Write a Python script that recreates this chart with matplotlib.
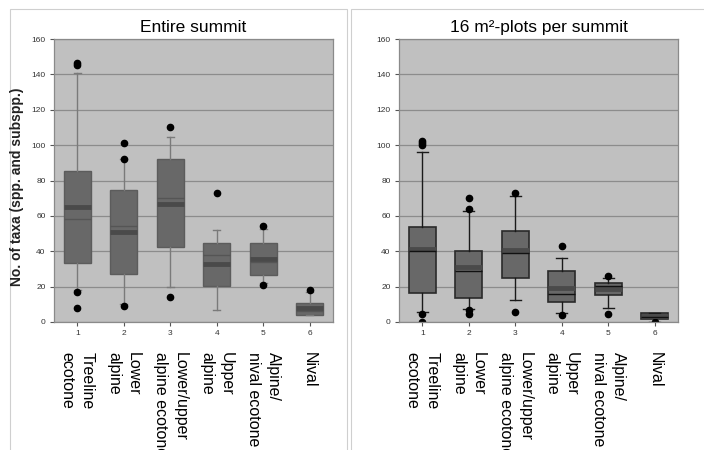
import matplotlib
matplotlib.use("Agg")
import matplotlib.pyplot as plt
from matplotlib.patches import Rectangle

plt.rcParams['font.family'] = ['Liberation Sans', 'DejaVu Sans']

categories = ["Treeline\necotone", "Lower\nalpine", "Lower/upper\nalpine ecotone",
              "Upper\nalpine", "Alpine/\nnival ecotone", "Nival"]
positions = [1, 2, 3, 4, 5, 6]

# entire summit: box statistics per altitudinal belt
med_summit = [64.8, 50.8, 66.8, 32.8, 35.4, 8.1]
mean_summit = [58.5, 54.0, 70.0, 37.8, 33.9, 6.0]
q1_summit = [33.3, 27.0, 42.2, 20.1, 26.4, 3.8]
q3_summit = [85.3, 74.5, 92.2, 44.8, 44.4, 10.7]
wlo_summit = [18.0, 10.2, 19.6, 6.8, 22.0, 3.8]
whi_summit = [140.6, 91.9, 104.5, 52.0, 52.5, 17.0]
fliers_summit = [[145.5, 146.3, 17, 8], [92, 101, 9], [110, 14], [73], [54, 21], [18]]

# 16 m2 plots per summit
med_plots = [41.0, 31.2, 40.7, 19.4, 18.5, 3.6]
mean_plots = [40.2, 28.8, 39.2, 15.8, 20.5, 3.0]
q1_plots = [16.4, 13.6, 24.8, 11.3, 15.2, 1.7]
q3_plots = [53.5, 40.1, 51.4, 29.0, 22.0, 4.9]
wlo_plots = [5.6, 7.3, 12.4, 4.9, 7.9, 0.0]
whi_plots = [96.2, 62.7, 71.0, 36.0, 24.8, 4.9]
fliers_plots = [[99.8, 101, 102.4, 4.7, 0], [64, 70, 6.6, 4.7], [73, 5.8], [43, 3.8], [25.8, 4.7], [0]]

yticks = [0, 20, 40, 60, 80, 100, 120, 140, 160]


def make_stats(med, mean, q1, q3, wlo, whi, fliers):
    stats = []
    for i in range(len(med)):
        stats.append(dict(med=med[i], mean=mean[i], q1=q1[i], q3=q3[i],
                          whislo=wlo[i], whishi=whi[i], fliers=fliers[i]))
    return stats


fig = plt.figure(figsize=(7.04, 4.5), dpi=100)
W, H = 704.0, 450.0

# light panel frames
for x0, x1 in [(10, 347), (351, 712)]:
    fig.patches.append(Rectangle((x0 / W, -0.05), (x1 - x0) / W, (H - 9) / H + 0.05,
                                 transform=fig.transFigure, fill=False,
                                 edgecolor='#cfcfcf', linewidth=0.8))


def draw_panel(left, stats, title, edge, whisk, meancol, capw, edge_lw):
    ax = fig.add_axes([left / W, (H - 322) / H, 279 / W, 283 / H])
    ax.set_facecolor('#c0c0c0')
    ax.set_axisbelow(True)
    ax.grid(axis='y', color='#8c8c8c', linewidth=0.9)
    ax.bxp(stats, positions=positions, widths=0.58, patch_artist=True,
           showmeans=True, meanline=True, capwidths=capw,
           boxprops=dict(facecolor='#686868', edgecolor=edge, linewidth=edge_lw),
           medianprops=dict(color='#4a4a4a', linewidth=3.5),
           meanprops=dict(color=meancol, linestyle='-', linewidth=1.0),
           whiskerprops=dict(color=whisk, linewidth=1.0),
           capprops=dict(color=whisk, linewidth=1.0),
           flierprops=dict(marker='o', markerfacecolor='black', markeredgecolor='black',
                           markersize=4.5))
    ax.set_xlim(0.5, 6.5)
    ax.set_ylim(0, 160)
    ax.set_yticks(yticks)
    ax.set_xticks(positions)
    ax.set_xticklabels([str(p) for p in positions])
    ax.tick_params(labelsize=6, colors='#555555', labelcolor='#333333', length=3, pad=3)
    for s in ax.spines.values():
        s.set_color('#8a8a8a')
        s.set_linewidth(0.9)
    ax.set_title(title, fontsize=12.5, pad=5)
    for p, lab in zip(positions, categories):
        ax.text(p, -0.105, lab, transform=ax.get_xaxis_transform(), rotation=-90,
                ha='center', va='top', multialignment='left', fontsize=11.5,
                linespacing=1.4)
    return ax


draw_panel(54, make_stats(med_summit, mean_summit, q1_summit, q3_summit,
                          wlo_summit, whi_summit, fliers_summit),
           "Entire summit", '#5c5c5c', '#7a7a7a', '#555555', 0.15, 1.0)
draw_panel(399, make_stats(med_plots, mean_plots, q1_plots, q3_plots,
                           wlo_plots, whi_plots, fliers_plots),
           "16 m²-plots per summit", '#2a2a2a', '#1a1a1a', '#111111', 0.24, 1.2)

fig.text(17 / W, 1 - 187 / H, "No. of taxa (spp. and subspp.)", rotation=90,
         ha='center', va='center', fontsize=10, fontweight='bold', color='#222222')

fig.savefig("out.png", dpi=100)
